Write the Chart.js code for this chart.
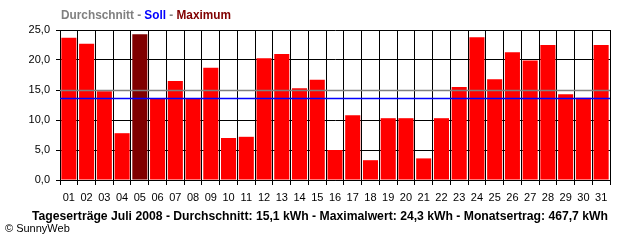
<!DOCTYPE html>
<html><head><meta charset="utf-8">
<script src="https://cdn.jsdelivr.net/npm/chart.js@4/dist/chart.umd.min.js"></script>
<style>html,body{margin:0;padding:0;background:#fff}#wrap{width:640px;height:240px;position:relative}</style>
</head><body><div id="wrap"><canvas id="c" width="640" height="240"></canvas></div>
<script>
const days = ['01','02','03','04','05','06','07','08','09','10','11','12','13','14','15','16','17','18','19','20','21','22','23','24','25','26','27','28','29','30','31'];
const yields = [23.7,22.7,14.8,7.8,24.3,13.5,16.5,13.5,18.7,7.0,7.2,20.3,21.0,15.3,16.7,5.0,10.8,3.3,10.3,10.3,3.6,10.3,15.5,23.8,16.8,21.3,19.9,22.5,14.3,13.7,22.5];
const maxIndex = 4;
const averageValue = 15.1;
const targetValue = 13.7;
const yMin = 0, yMax = 25, yStep = 5;
const legendParts = [['Durchschnitt','#808080'],[' - ','#808080'],['Soll','#0000ff'],[' - ','#808080'],['Maximum','#800000']];
const footerText = 'Tageserträge Juli 2008 - Durchschnitt: 15,1 kWh - Maximalwert: 24,3 kWh - Monatsertrag: 467,7 kWh';
const copyrightText = '© SunnyWeb';

const barColors = yields.map((v,i)=> i===maxIndex ? '#800000' : '#ff0000');

function fitText(ctx, text, x, y, width){
  const w = ctx.measureText(text).width;
  ctx.save(); ctx.translate(x,y); ctx.scale(width/w,1); ctx.fillText(text,0,0); ctx.restore();
}

const overlay = {
  id:'overlay',
  afterDatasetsDraw(chart){
    const {ctx, chartArea:a, scales:{y}} = chart;
    ctx.save();
    [[averageValue,'#808080'],[targetValue,'#0000ff']].forEach(([v,c])=>{
      const py = Math.ceil(y.getPixelForValue(v))+0.5;
      ctx.strokeStyle=c; ctx.lineWidth=1.3;
      ctx.beginPath(); ctx.moveTo(a.left,py); ctx.lineTo(a.right,py); ctx.stroke();
    });
    ctx.restore();
  },
  afterDraw(chart){
    const {ctx} = chart;
    ctx.save();
    ctx.textBaseline='middle';
    ctx.font='bold 12px "Liberation Sans"';
    let total = legendParts.reduce((s,[t])=>s+ctx.measureText(t).width,0);
    const k = 170/total;
    ctx.save();
    ctx.translate(61,16); ctx.scale(k,1);
    let x=0;
    legendParts.forEach(([t,c])=>{ctx.fillStyle=c; ctx.fillText(t,x,0); x+=ctx.measureText(t).width;});
    ctx.restore();
    ctx.fillStyle='#000';
    fitText(ctx, footerText, 32, 217, 576);
    ctx.font='11px "Liberation Sans"';
    ctx.fillText(copyrightText,5,229);
    ctx.restore();
  }
};

new Chart(document.getElementById('c'),{
  type:'bar',
  data:{labels:days,datasets:[{data:yields,backgroundColor:barColors,borderWidth:0,barPercentage:0.85,categoryPercentage:1}]},
  options:{
    responsive:false,animation:false,
    layout:{padding:{left:0,top:30,right:30,bottom:0}},
    plugins:{legend:{display:false},tooltip:{enabled:false},title:{display:false}},
    scales:{
      x:{
        grid:{color:'#000',lineWidth:1,tickLength:5,offset:true},
        border:{color:'#000',width:1},
        ticks:{color:'#000',font:{family:'"Liberation Sans"',size:11},autoSkip:false,maxRotation:0,padding:6},
        afterFit(s){s.height=60;}
      },
      y:{
        min:yMin,max:yMax,
        grid:{color:'#000',lineWidth:1,tickLength:4},
        border:{color:'#000',width:1},
        ticks:{stepSize:yStep,color:'#000',font:{family:'"Liberation Sans"',size:11},padding:6,
          callback:v=>v.toFixed(1).replace('.',',')},
        afterFit(s){s.width=60;}
      }
    }
  },
  plugins:[overlay]
});
</script></body></html>
